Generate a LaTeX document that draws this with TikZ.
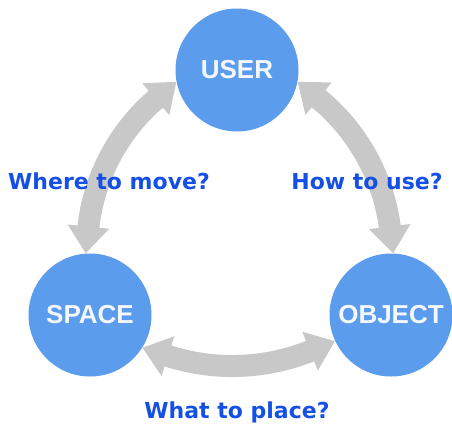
\documentclass[tikz,border=0pt]{standalone}
\usepackage{fontspec}
\usepackage{xcolor}
\usepackage{tikz}
\usetikzlibrary{arrows.meta}
\newfontfamily\circlefont{Liberation Sans}
\newfontfamily\labelfont{DejaVu Sans}
\definecolor{circleblue}{HTML}{5C9CEC}
\definecolor{labelblue}{HTML}{1450E6}
\definecolor{arrowgray}{HTML}{C8C8C8}

\begin{document}
\begin{tikzpicture}[x=1pt, y=-1pt]
        % Define styles
        \tikzset{
            role/.style={circle, fill=circleblue, minimum size=123pt, inner sep=0pt, text=white!93!circleblue, font=\circlefont\bfseries\fontsize{26}{30}\selectfont},
            question/.style={anchor=base, text=labelblue, font=\labelfont\bfseries\fontsize{22}{26}\selectfont},
            arrow/.style={arrowgray, line width=22pt, {Triangle[width=40pt,length=27pt]}-{Triangle[width=40pt,length=27pt]}}
        }
        \useasboundingbox (0,0) rectangle (452,429);

        % Nodes
        \node[role] (user_node) at (237,70) {USER};
        \node[role] (space_node) at (90,315) {SPACE};
        \node[role] (object_node) at (391,315) {OBJECT};

        % Arrows
        \draw[arrow] (user_node.191) to[bend right=22] (space_node.94);
        \draw[arrow] (user_node.349) to[bend left=22] (object_node.88);
        \draw[arrow] (space_node.328) to[bend right=20] (object_node.205);

        % Questions
        \node[question] (move_label) at (109,189) {Where to move?};
        \node[question] (use_label) at (367,189) {How to use?};
        \node[question] (place_label) at (237,418) {What to place?};
    \end{tikzpicture}
\end{document}
